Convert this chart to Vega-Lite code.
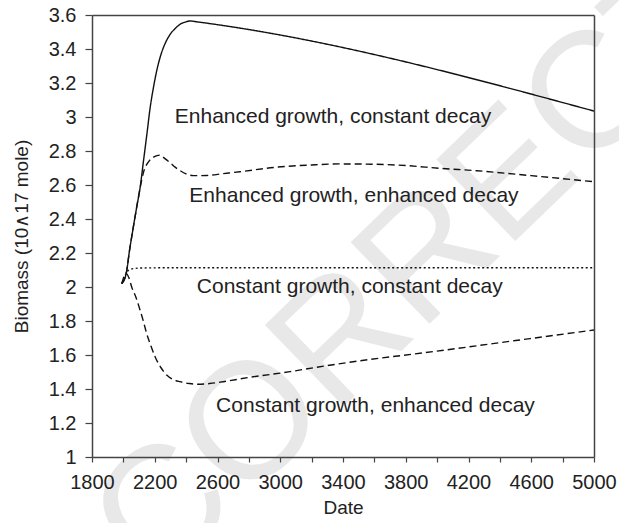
{
  "$schema": "https://vega.github.io/schema/vega-lite/v6.json",
  "width": 502,
  "height": 442,
  "autosize": {"type": "none"},
  "padding": {"left": 92, "top": 15, "right": 25, "bottom": 66},
  "background": "white",
  "config": {
    "view": {"stroke": null},
    "font": "Liberation Sans",
    "axis": {
      "grid": false,
      "labelFont": "Liberation Sans",
      "titleFont": "Liberation Sans",
      "labelFontSize": 20,
      "titleFontSize": 19,
      "titleFontWeight": "normal",
      "labelColor": "#222",
      "titleColor": "#222",
      "domainColor": "#444",
      "tickColor": "#444",
      "domainWidth": 1.5,
      "tickWidth": 1.2
    }
  },
  "datasets": {
    "watermark": [{"text": "CORRECTED", "x": 4382, "y": 2.576}],
    "curves": [
      {"series": "EGCD", "x": 1990, "y": 2.02},
      {"series": "EGCD", "x": 2018, "y": 2.08},
      {"series": "EGCD", "x": 2040, "y": 2.22},
      {"series": "EGCD", "x": 2063, "y": 2.35},
      {"series": "EGCD", "x": 2085, "y": 2.47},
      {"series": "EGCD", "x": 2106, "y": 2.58},
      {"series": "EGCD", "x": 2128, "y": 2.74},
      {"series": "EGCD", "x": 2150, "y": 2.9},
      {"series": "EGCD", "x": 2170, "y": 3.05},
      {"series": "EGCD", "x": 2191, "y": 3.17},
      {"series": "EGCD", "x": 2212, "y": 3.27},
      {"series": "EGCD", "x": 2244, "y": 3.38},
      {"series": "EGCD", "x": 2270, "y": 3.44},
      {"series": "EGCD", "x": 2297, "y": 3.485},
      {"series": "EGCD", "x": 2330, "y": 3.52},
      {"series": "EGCD", "x": 2361, "y": 3.545},
      {"series": "EGCD", "x": 2400, "y": 3.56},
      {"series": "EGCD", "x": 2425, "y": 3.565},
      {"series": "EGCD", "x": 2467, "y": 3.56},
      {"series": "EGCD", "x": 5000, "y": 3.035},
      {"series": "EGED", "x": 1990, "y": 2.02},
      {"series": "EGED", "x": 2018, "y": 2.08},
      {"series": "EGED", "x": 2040, "y": 2.22},
      {"series": "EGED", "x": 2063, "y": 2.35},
      {"series": "EGED", "x": 2085, "y": 2.47},
      {"series": "EGED", "x": 2106, "y": 2.58},
      {"series": "EGED", "x": 2130, "y": 2.68},
      {"series": "EGED", "x": 2159, "y": 2.735},
      {"series": "EGED", "x": 2195, "y": 2.765},
      {"series": "EGED", "x": 2233, "y": 2.776},
      {"series": "EGED", "x": 2265, "y": 2.755},
      {"series": "EGED", "x": 2297, "y": 2.732},
      {"series": "EGED", "x": 2330, "y": 2.705},
      {"series": "EGED", "x": 2361, "y": 2.685},
      {"series": "EGED", "x": 2400, "y": 2.665},
      {"series": "EGED", "x": 2446, "y": 2.655},
      {"series": "EGED", "x": 2531, "y": 2.656},
      {"series": "EGED", "x": 2637, "y": 2.667},
      {"series": "EGED", "x": 2743, "y": 2.678},
      {"series": "EGED", "x": 2977, "y": 2.705},
      {"series": "EGED", "x": 3200, "y": 2.718},
      {"series": "EGED", "x": 3381, "y": 2.724},
      {"series": "EGED", "x": 3600, "y": 2.722},
      {"series": "EGED", "x": 3806, "y": 2.714},
      {"series": "EGED", "x": 4019, "y": 2.698},
      {"series": "EGED", "x": 4252, "y": 2.684},
      {"series": "EGED", "x": 4600, "y": 2.655},
      {"series": "EGED", "x": 5000, "y": 2.619},
      {"series": "CGCD", "x": 1990, "y": 2.02},
      {"series": "CGCD", "x": 2018, "y": 2.08},
      {"series": "CGCD", "x": 2035, "y": 2.1},
      {"series": "CGCD", "x": 2063, "y": 2.108},
      {"series": "CGCD", "x": 2120, "y": 2.112},
      {"series": "CGCD", "x": 2300, "y": 2.113},
      {"series": "CGCD", "x": 5000, "y": 2.113},
      {"series": "CGED", "x": 1990, "y": 2.02},
      {"series": "CGED", "x": 2018, "y": 2.08},
      {"series": "CGED", "x": 2035, "y": 2.055},
      {"series": "CGED", "x": 2053, "y": 2.0},
      {"series": "CGED", "x": 2080, "y": 1.94},
      {"series": "CGED", "x": 2106, "y": 1.865},
      {"series": "CGED", "x": 2127, "y": 1.8},
      {"series": "CGED", "x": 2148, "y": 1.728},
      {"series": "CGED", "x": 2175, "y": 1.655},
      {"series": "CGED", "x": 2202, "y": 1.59},
      {"series": "CGED", "x": 2240, "y": 1.525},
      {"series": "CGED", "x": 2276, "y": 1.482},
      {"series": "CGED", "x": 2320, "y": 1.455},
      {"series": "CGED", "x": 2361, "y": 1.443},
      {"series": "CGED", "x": 2420, "y": 1.432},
      {"series": "CGED", "x": 2467, "y": 1.428},
      {"series": "CGED", "x": 2550, "y": 1.432},
      {"series": "CGED", "x": 2637, "y": 1.443},
      {"series": "CGED", "x": 2800, "y": 1.468},
      {"series": "CGED", "x": 3062, "y": 1.502},
      {"series": "CGED", "x": 3211, "y": 1.525},
      {"series": "CGED", "x": 3500, "y": 1.565},
      {"series": "CGED", "x": 3976, "y": 1.62},
      {"series": "CGED", "x": 4500, "y": 1.685},
      {"series": "CGED", "x": 5000, "y": 1.747}
    ],
    "labels": [
      {"label": "Enhanced growth, constant decay", "x": 3336, "y": 2.963},
      {"label": "Enhanced growth, enhanced decay", "x": 3470, "y": 2.502},
      {"label": "Constant growth, constant decay", "x": 3443, "y": 1.963},
      {"label": "Constant growth, enhanced decay", "x": 3607, "y": 1.266}
    ]
  },
  "layer": [
    {
      "data": {"name": "watermark"},
      "mark": {"type": "text", "fontSize": 165, "fill": "#e8e8e8", "angle": -44, "align": "center", "baseline": "middle", "font": "Liberation Sans"},
      "encoding": {
        "x": {
          "field": "x", "type": "quantitative",
          "scale": {"domain": [1800, 5000], "nice": false, "zero": false},
          "axis": {
            "orient": "bottom",
            "zindex": 2,
            "values": [1800, 2000, 2200, 2400, 2600, 2800, 3000, 3200, 3400, 3600, 3800, 4000, 4200, 4400, 4600, 4800, 5000],
            "labelExpr": "(datum.value - 1800) % 400 == 0 ? datum.label : ''",
            "format": "d",
            "labelOverlap": false,
            "labelFlush": false,
            "tickSize": 5,
            "labelPadding": 10,
            "title": "Date",
            "titlePadding": 6
          }
        },
        "y": {
          "field": "y", "type": "quantitative",
          "scale": {"domain": [1, 3.6], "nice": false, "zero": false},
          "axis": {
            "orient": "left",
            "zindex": 2,
            "values": [1, 1.2, 1.4, 1.6, 1.8, 2, 2.2, 2.4, 2.6, 2.8, 3, 3.2, 3.4, 3.6],
            "format": "~g",
            "labelOverlap": false,
            "labelFlush": false,
            "tickSize": 7,
            "labelPadding": 9,
            "title": "Biomass (10∧17 mole)",
            "titlePadding": 17
          }
        },
        "text": {"field": "text"}
      }
    },
    {
      "data": {"name": "curves"},
      "mark": {"type": "line", "color": "#111", "strokeWidth": 1.4, "interpolate": "monotone"},
      "encoding": {
        "x": {"field": "x", "type": "quantitative", "axis": null},
        "y": {"field": "y", "type": "quantitative", "axis": null},
        "detail": {"field": "series", "type": "nominal"},
        "strokeDash": {
          "field": "series", "type": "nominal",
          "scale": {"domain": ["EGCD", "EGED", "CGCD", "CGED"], "range": [[1, 0], [7, 4], [2, 2.5], [7, 4]]},
          "legend": null
        }
      }
    },
    {
      "data": {"name": "labels"},
      "mark": {"type": "text", "fontSize": 21, "fill": "#222", "align": "center", "baseline": "alphabetic", "font": "Liberation Sans"},
      "encoding": {
        "x": {"field": "x", "type": "quantitative", "axis": {"orient": "top", "zindex": 2, "labels": false, "ticks": false, "title": null, "domain": true}},
        "y": {"field": "y", "type": "quantitative", "axis": {"orient": "right", "zindex": 2, "labels": false, "ticks": false, "title": null, "domain": true}},
        "text": {"field": "label"}
      }
    }
  ],
  "resolve": {"axis": {"x": "independent", "y": "independent"}}
}
